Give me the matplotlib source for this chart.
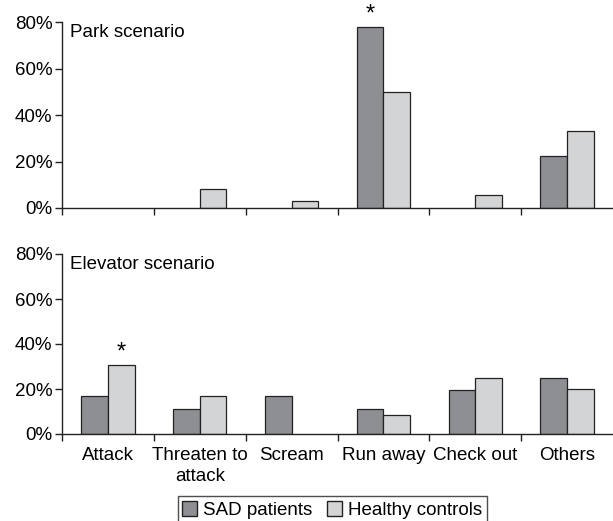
import matplotlib
matplotlib.use("Agg")
import matplotlib.pyplot as plt
import numpy as np
from matplotlib.patches import Patch

plt.rcParams['font.family'] = ['Liberation Sans', 'DejaVu Sans']

categories = ["Attack", "Threaten to\nattack", "Scream", "Run away", "Check out", "Others"]
park_sad = [0, 0, 0, 77.8, 0, 22.2]
park_hc = [0, 8.3, 2.8, 50.0, 5.6, 33.3]
elev_sad = [16.7, 11.1, 16.7, 11.1, 19.4, 25.0]
elev_hc = [30.6, 16.7, 0, 8.3, 25.0, 20.0]
yticks = [0, 20, 40, 60, 80]
ytick_labels = ["0%", "20%", "40%", "60%", "80%"]
series_names = ["SAD patients", "Healthy controls"]
sad_color = "#8e8f93"
hc_color = "#d3d4d6"

W, H = 613, 521
fig = plt.figure(figsize=(W / 100, H / 100), dpi=100)

def make_ax(top_px, bottom_px):
    return fig.add_axes([62 / W, 1 - bottom_px / H, 1 - 62 / W, (bottom_px - top_px) / H])

ax1 = make_ax(22, 208)
ax2 = make_ax(254, 434)

x = np.arange(len(categories)) + 0.5
bw = 0.29

def draw(ax, sad, hc, title, stars):
    sad = np.array(sad, dtype=float)
    hc = np.array(hc, dtype=float)
    ms = sad > 0
    mh = hc > 0
    ax.bar((x - bw / 2)[ms], sad[ms], bw, color=sad_color, edgecolor="#222222", linewidth=0.9)
    ax.bar((x + bw / 2)[mh], hc[mh], bw, color=hc_color, edgecolor="#222222", linewidth=0.9)
    ax.set_xlim(0, len(categories))
    ax.set_ylim(0, 80)
    ax.set_yticks(yticks)
    ax.set_yticklabels(ytick_labels, fontsize=13.5)
    ax.set_xticks(np.arange(len(categories)))
    ax.set_xticklabels([])
    ax.spines['top'].set_visible(False)
    ax.spines['right'].set_visible(False)
    ax.tick_params(axis='both', direction='out', length=5, width=1, color="#222222")
    ax.tick_params(axis='y', pad=2)
    for s in ['left', 'bottom']:
        ax.spines[s].set_linewidth(1)
        ax.spines[s].set_color("#222222")
    ax.text(0.087, 75.5, title, fontsize=13.5, va='center', ha='left')
    for xi, v in stars:
        ax.text(xi, v + 0.5, "*", ha='center', va='bottom', fontsize=17)

draw(ax1, park_sad, park_hc, "Park scenario", [(x[3] - bw / 2, park_sad[3])])
draw(ax2, elev_sad, elev_hc, "Elevator scenario", [(x[0] + bw / 2, elev_hc[0])])

for xi, lab in zip(x, categories):
    ax2.text(xi, -6, lab, ha='center', va='top', fontsize=13.5, linespacing=1.25)

handles = [Patch(facecolor=sad_color, edgecolor="#222222"),
           Patch(facecolor=hc_color, edgecolor="#222222")]
leg = fig.legend(handles, series_names, loc='center', bbox_to_anchor=(332 / W, 1 - 510 / H),
                 ncol=2, fontsize=13.5, frameon=True, fancybox=False, edgecolor="#222222",
                 handlelength=0.8, handleheight=0.8, handletextpad=0.3, columnspacing=0.8,
                 borderpad=0.25, borderaxespad=0)
leg.get_frame().set_linewidth(1)

fig.savefig("out.png", dpi=100)
